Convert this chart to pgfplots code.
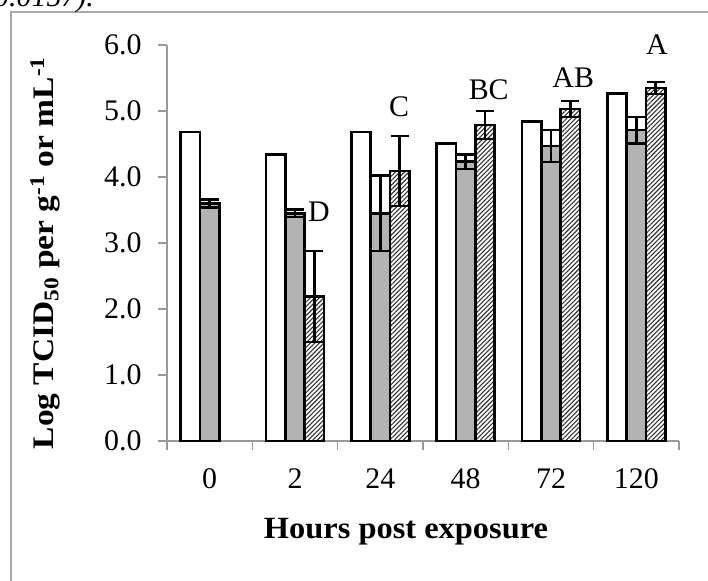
\documentclass[border=0pt]{standalone}
\usepackage{fontspec}
\setmainfont{Liberation Serif}
\usepackage{pgfplots}
\pgfplotsset{compat=1.18}
\usetikzlibrary{patterns.meta}
\definecolor{axisgray}{HTML}{9A9A9A}
\definecolor{bargray}{HTML}{B3B3B3}
\definecolor{framegray}{HTML}{A8A8A8}

\begin{document}
\begin{tikzpicture}[x=1bp,y=1bp]
\useasboundingbox (0,0) rectangle (708,581);
\clip (0,0) rectangle (708,581);
% cropped page frame and caption remnant
\draw[framegray,line width=1.6bp] (11,-5) -- (11,569) -- (720,569);
\node[anchor=base west,inner sep=0pt,font=\fontsize{30}{32}\selectfont\itshape] at (-6,574) {0.0157).};
\begin{axis}[
  at={(167bp,140bp)},anchor=origin,
  scale only axis,width=512bp,height=396bp,
  xmin=0,xmax=6,ymin=0,ymax=6,
  ybar=0pt,bar width=19.3bp,
  axis x line*=bottom,axis y line*=left,
  xtick={0.5,1.5,2.5,3.5,4.5,5.5},xticklabels={0,2,24,48,72,120},
  major x tick style={draw=none},
  minor xtick={0,1,2,3,4,5,6},
  ytick={0,1,2,3,4,5,6},
  yticklabel style={xshift=-13bp,/pgf/number format/.cd,fixed,fixed zerofill,precision=1},
  xticklabel style={yshift=-15bp},
  tick align=outside,major tick length=9bp,minor tick length=9bp,
  axis line style={axisgray,line width=1.5bp},
  every tick/.style={axisgray,line width=1.5bp},
  tick label style={font=\fontsize{30}{32}\selectfont},
  /pgf/number format/assume math mode=true,
  clip=false,
]
\addplot[fill=white,draw=black,line width=2.7bp] coordinates {
  (0.5,4.68) (1.5,4.34) (2.5,4.68) (3.5,4.51) (4.5,4.84) (5.5,5.26)
};
\addplot[fill=bargray,draw=black,line width=2.7bp,
  error bars/.cd,y dir=both,y explicit,
  error bar style={black,line width=2.4bp},
  error mark options={rotate=90,mark size=9bp,black,line width=2.4bp}] coordinates {
  (0.5,3.60) +- (0,0.06) (1.5,3.45) +- (0,0.06) (2.5,3.45) +- (0,0.57)
  (3.5,4.23) +- (0,0.11) (4.5,4.47) +- (0,0.24) (5.5,4.71) +- (0,0.20)
};
\addplot[pattern={Lines[angle=45,distance=3.2bp,line width=1.1bp]},pattern color=black!80,
  draw=black,line width=2.7bp,
  error bars/.cd,y dir=both,y explicit,
  error bar style={black,line width=2.4bp},
  error mark options={rotate=90,mark size=9bp,black,line width=2.4bp}] coordinates {
  (1.5,2.19) +- (0,0.69) (2.5,4.09) +- (0,0.53) (3.5,4.79) +- (0,0.21)
  (4.5,5.03) +- (0,0.12) (5.5,5.35) +- (0,0.09)
};
\node[font=\fontsize{30}{32}\selectfont] at (axis cs:1.78,3.47) {D};
\node[font=\fontsize{30}{32}\selectfont] at (axis cs:2.72,5.07) {C};
\node[font=\fontsize{30}{32}\selectfont] at (axis cs:3.77,5.32) {BC};
\node[font=\fontsize{30}{32}\selectfont] at (axis cs:4.76,5.50) {AB};
\node[font=\fontsize{30}{32}\selectfont] at (axis cs:5.74,6.00) {A};
\end{axis}
\node[font=\fontsize{31}{33}\selectfont\bfseries] at (406,49) {\scalebox{1.05}[1]{Hours post exposure}};
\node[rotate=90,font=\fontsize{30}{32}\selectfont\bfseries] at (45,328)
  {\scalebox{1.12}[1]{Log TCID\textsubscript{50} per g\textsuperscript{-1} or mL\textsuperscript{-1}}};
\end{tikzpicture}
\end{document}
